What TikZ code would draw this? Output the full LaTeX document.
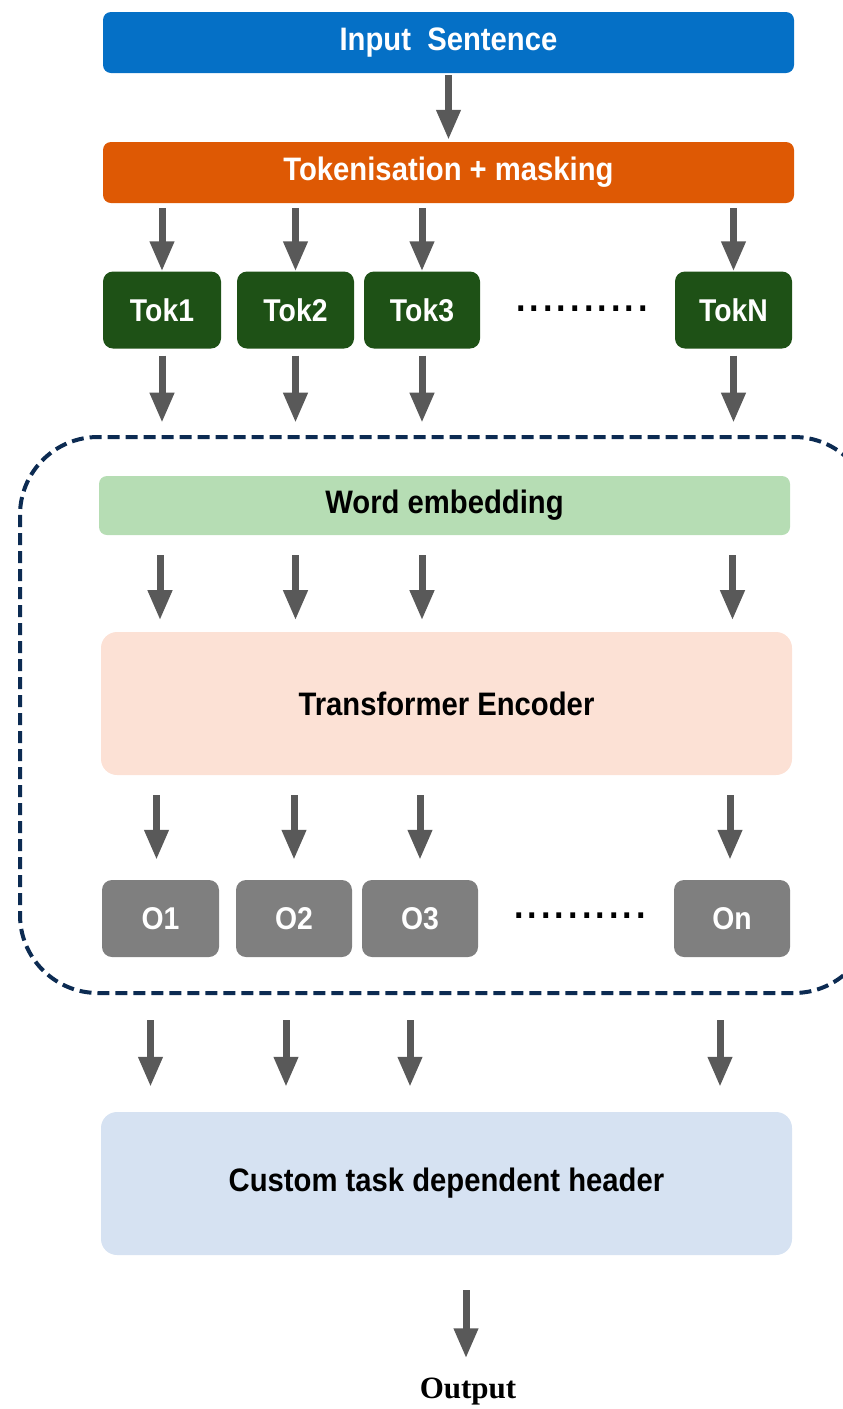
\documentclass[tikz,border=0pt]{standalone}
\usepackage{fontspec}
\setmainfont{Liberation Sans}[FakeStretch=0.9]
\newfontfamily\outfont{Liberation Serif}
\usetikzlibrary{arrows.meta}
\definecolor{cblue}{RGB}{5,112,198}
\definecolor{corange}{RGB}{222,89,4}
\definecolor{cdgreen}{RGB}{30,81,22}
\definecolor{clgreen}{RGB}{182,221,180}
\definecolor{cpeach}{RGB}{252,225,213}
\definecolor{cgray}{RGB}{127,127,127}
\definecolor{clblue}{RGB}{214,226,242}
\definecolor{carrow}{RGB}{89,89,89}
\definecolor{cnavy}{RGB}{12,43,82}
\newcommand{\mydotrow}{.\kern4pt.\kern4pt.\kern4pt.\kern4pt.\kern4pt.\kern4pt.\kern4pt.\kern4pt.\kern4pt.}
\begin{document}
\begin{tikzpicture}[x=1pt,y=-1pt,
  wide/.style={rounded corners=8pt, minimum width=691pt, inner sep=0pt, font=\fontsize{32.5}{35}\selectfont\bfseries},
  tall/.style={wide, rounded corners=16pt, minimum height=143pt},
  small/.style={rounded corners=10pt, minimum width=117pt, minimum height=77pt, inner sep=0pt, font=\fontsize{31.5}{35}\selectfont\bfseries, text=white},
  tokbox/.style={small, fill=cdgreen},
  obox/.style={small, fill=cgray},
  dotrow/.style={font=\fontsize{38}{40}\selectfont\bfseries, inner sep=0pt},
  arr/.style={draw=carrow, line width=7pt, -{Triangle[width=23pt,length=30pt]}},
  frame/.style={draw=cnavy, line width=4pt, dash pattern=on 12pt off 6pt, rounded corners=78pt}
]
\useasboundingbox (0,0) rectangle (843,1409);
\clip (0,0) rectangle (843,1409);

% dashed frame
\draw[frame] (20,437) rectangle (872,993);

% nodes
\node[wide, fill=cblue, text=white, minimum height=61pt] (inp) at (448.5,42.5) {Input\ \ Sentence};
\node[wide, fill=corange, text=white, minimum height=61pt] (tokz) at (448.5,172.5) {Tokenisation + masking};

\node[tokbox, minimum width=118pt] (tok1) at (162,310) {Tok1};
\node[tokbox] (tok2) at (295.5,310) {Tok2};
\node[tokbox, minimum width=116pt] (tok3) at (422,310) {Tok3};
\node[tokbox] (tokN) at (733.5,310) {TokN};
\node[dotrow] (dots1) at (582,309) {\mydotrow};

\node[wide, fill=clgreen, minimum height=59pt] (we) at (444.5,505.5) {Word embedding};
\node[tall, fill=cpeach] (te) at (446.5,703.5) {Transformer Encoder};

\node[obox] (o1) at (160.5,918.5) {O1};
\node[obox, minimum width=116pt] (o2) at (294,918.5) {O2};
\node[obox, minimum width=116pt] (o3) at (420,918.5) {O3};
\node[obox, minimum width=116pt] (on) at (732,918.5) {On};
\node[dotrow] (dots2) at (580,916) {\mydotrow};

\node[tall, fill=clblue] (hd) at (446.5,1183.5) {Custom task dependent header};
\node[font=\outfont\fontsize{31}{34}\selectfont\bfseries, inner sep=0pt] (out) at (468,1392) {Output};

% arrows
\draw[arr] ([yshift=-2pt]inp.south) -- ([yshift=2pt]tokz.north);
\foreach \t in {tok1,tok2,tok3,tokN}{
  \draw[arr] ([yshift=-5pt]tokz.south -| \t.north) -- (\t.north);
  \draw[arr] ([yshift=-7pt]\t.south) -- ++(0,67);
}
\foreach \t/\dx in {tok1/-2,tok2/0,tok3/0,tokN/-1}{
  \draw[arr] ([xshift=\dx pt, yshift=-20pt]we.south -| \t.south) -- ++(0,65);
}
\foreach \t/\dx in {o1/-4,o2/0,o3/0,on/-2}{
  \draw[arr] ([xshift=\dx pt, yshift=-20pt]te.south -| \t.north) -- ([xshift=\dx pt, yshift=20pt]\t.north);
}
\foreach \t/\dx in {o1/-10,o2/-8,o3/-10,on/-12}{
  \draw[arr] ([xshift=\dx pt, yshift=-63pt]\t.south) -- ([xshift=\dx pt, yshift=25pt]hd.north -| \t.south);
}
\draw[arr] ([xshift=-2pt, yshift=-35pt]hd.south -| out.north) -- ([xshift=-2pt, yshift=20pt]out.north);
\end{tikzpicture}
\end{document}
